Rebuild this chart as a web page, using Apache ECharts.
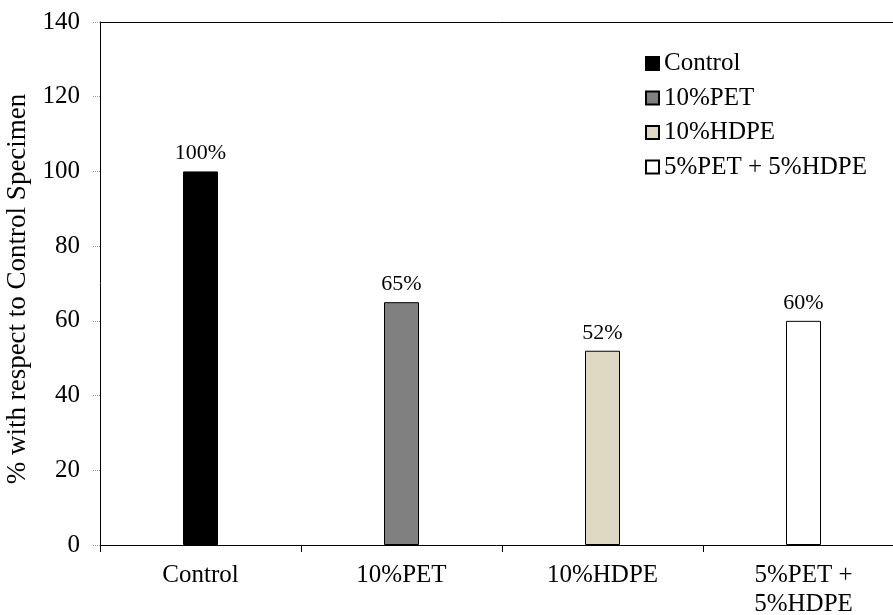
<!DOCTYPE html>
<html>
<head>
<meta charset="utf-8">
<script src="https://cdn.jsdelivr.net/npm/echarts@6/dist/echarts.min.js"></script>
<style>
  html, body { margin: 0; padding: 0; background: #fff; }
  #chart { width: 893px; height: 615px; }
</style>
</head>
<body>
<div id="chart"></div>
<script>
// Mix designs and their strength relative to the control specimen (%)
const categories = ['Control', '10%PET', '10%HDPE', '5%PET +\n5%HDPE'];
const seriesNames = ['Control', '10%PET', '10%HDPE', '5%PET + 5%HDPE'];
const values = [100, 65, 52, 60];
const yTicks = { min: 0, max: 140, interval: 20 };
const barColors = ['#000000', '#808080', '#DDD9C3', '#FFFFFF'];

const FONT = '"Liberation Serif", "Times New Roman", serif';

// one series per mix so that each gets its own legend entry
const series = seriesNames.map((name, i) => ({
  name: name,
  type: 'bar',
  stack: 'mix',
  barWidth: 35,
  data: values.map((v, j) => (j === i ? v : '-')),
  itemStyle: { color: barColors[i], borderColor: '#000', borderWidth: 1 },
  label: {
    show: true,
    position: 'top',
    distance: 7,
    formatter: p => p.value + '%',
    fontFamily: FONT,
    fontSize: 22,
    color: '#000'
  }
}));

const chart = echarts.init(document.getElementById('chart'), null, { renderer: 'canvas' });
chart.setOption({
  backgroundColor: '#fff',
  animation: false,
  grid: { left: 100, right: -11, top: 22, bottom: 70, containLabel: false, outerBoundsMode: 'none' },
  legend: {
    orient: 'vertical',
    left: 645,
    top: 51,
    padding: 0,
    itemWidth: 13,
    itemHeight: 13,
    itemGap: 9.5,
    icon: 'rect',
    data: seriesNames,
    textStyle: { fontFamily: FONT, fontSize: 25, color: '#000', lineHeight: 24, padding: [0, 0, 0, 0] }
  },
  xAxis: [{
    type: 'category',
    data: categories,
    axisLine: { lineStyle: { color: '#000', width: 1 } },
    axisTick: { show: true, length: 7, alignWithLabel: false, lineStyle: { color: '#000' } },
    axisLabel: { fontFamily: FONT, fontSize: 25, color: '#000', margin: 16, lineHeight: 29, interval: 0 },
    splitLine: { show: false }
  }, {
    // closing line along the top of the plot
    type: 'category',
    position: 'top',
    data: categories,
    axisLine: { show: true, lineStyle: { color: '#000', width: 1 } },
    axisTick: { show: false },
    axisLabel: { show: false }
  }],
  yAxis: {
    type: 'value',
    min: yTicks.min,
    max: yTicks.max,
    interval: yTicks.interval,
    name: '% with respect to Control Specimen',
    nameLocation: 'middle',
    nameGap: 66,
    nameTextStyle: { fontFamily: FONT, fontSize: 27, color: '#000', padding: [0, 11, 0, 0] },
    axisLine: { show: true, lineStyle: { color: '#000', width: 1 } },
    axisTick: { show: true, length: 7, lineStyle: { color: '#999', type: 'dotted' } },
    axisLabel: { fontFamily: FONT, fontSize: 25, color: '#000', margin: 20 },
    splitLine: { show: false }
  },
  series: series
});
</script>
</body>
</html>
